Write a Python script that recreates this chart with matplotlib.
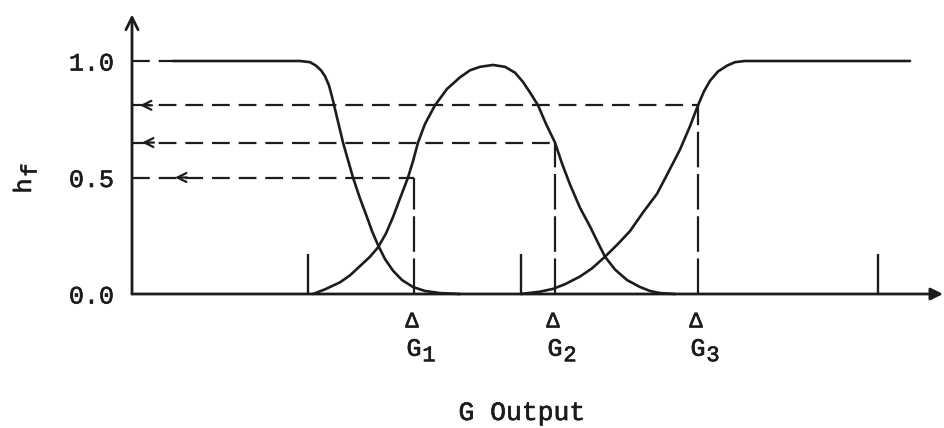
import matplotlib.pyplot as plt
import matplotlib.patheffects as pe

plt.rcParams['font.family'] = ['Liberation Mono', 'DejaVu Sans Mono']

INK = '#1c1c1c'
# typewriter strokes are a bit heavier than Liberation Mono
BOLDEN = [pe.withStroke(linewidth=0.45, foreground=INK)]

# membership curves (x in G units, y = h_f)
low_x = [0.41, 1.58, 1.68, 1.78, 1.84, 1.89, 1.93, 1.97, 2.01, 2.06, 2.11, 2.16,
         2.21, 2.28, 2.35, 2.40, 2.46, 2.53, 2.61, 2.70, 2.81, 2.93, 3.08, 3.28]
low_y = [1.0, 1.0, 1.0, 0.995, 0.98, 0.96, 0.935, 0.895, 0.83, 0.74, 0.65, 0.575,
         0.50, 0.41, 0.33, 0.27, 0.21, 0.15, 0.10, 0.06, 0.03, 0.013, 0.004, 0.0]

mid_x = [1.81, 1.93, 2.08, 2.18, 2.28, 2.38, 2.46, 2.54, 2.61, 2.68, 2.76, 2.81,
         2.86, 2.93, 3.03, 3.15, 3.28, 3.38, 3.48, 3.61, 3.73, 3.83, 3.91, 3.98,
         4.06, 4.14, 4.23, 4.30, 4.38, 4.48, 4.58, 4.66, 4.73, 4.83, 4.95, 5.08,
         5.18, 5.28, 5.43]
mid_y = [0.0, 0.02, 0.05, 0.08, 0.12, 0.16, 0.20, 0.26, 0.33, 0.41, 0.50, 0.57,
         0.65, 0.73, 0.81, 0.88, 0.93, 0.96, 0.975, 0.983, 0.975, 0.95, 0.91, 0.865,
         0.81, 0.73, 0.65, 0.56, 0.47, 0.37, 0.29, 0.22, 0.16, 0.105, 0.06, 0.03,
         0.013, 0.004, 0.0]

high_x = [3.89, 4.08, 4.21, 4.33, 4.48, 4.60, 4.73, 4.86, 4.98, 5.11, 5.25, 5.36,
          5.48, 5.58, 5.66, 5.72, 5.78, 5.86, 5.95, 6.03, 6.13, 7.78]
high_y = [0.0, 0.01, 0.022, 0.042, 0.075, 0.11, 0.16, 0.215, 0.27, 0.35, 0.43, 0.52,
          0.62, 0.72, 0.81, 0.87, 0.915, 0.955, 0.98, 0.995, 1.0, 1.0]

# sample outputs and their read-back h_f
g_x = [2.82, 4.23, 5.66]
g_h = [0.50, 0.65, 0.81]
g_sub = ['1', '2', '3']
arrow_tip = [0.43, 0.10, 0.08]

# short marks on the G axis
mark_x = [1.76, 3.89, 7.46]
mark_h = 0.17

y_ticks = [0.0, 0.5, 1.0]
y_labels = ['0.0', '0.5', '1.0']

fig = plt.figure(figsize=(9.44, 4.28), dpi=100)
ax = fig.add_axes([132 / 944, 134 / 428, 812 / 944, 1.2 * 233 / 428])
ax.set_xlim(0, 8.12)
ax.set_ylim(0, 1.2)
for s in ax.spines.values():
    s.set_visible(False)

# axes with arrows
ax.annotate('', xy=(0, 1.2), xytext=(0, 0), annotation_clip=False,
            arrowprops=dict(arrowstyle='->', lw=2, color=INK, mutation_scale=22,
                            shrinkA=0, shrinkB=0))
ax.annotate('', xy=(8.11, 0), xytext=(0, 0), annotation_clip=False,
            arrowprops=dict(arrowstyle='-|>', lw=2, color=INK, mutation_scale=18,
                            shrinkA=0, shrinkB=0))

for xs, ys in [(low_x, low_y), (mid_x, mid_y), (high_x, high_y)]:
    ax.plot(xs, ys, color=INK, lw=1.9, clip_on=False, solid_capstyle='round')

# dashed lead-in at 1.0
ax.plot([0, low_x[0]], [1.0, 1.0], color=INK, lw=1.6, dashes=(8, 4))

for gx, gh, tip in zip(g_x, g_h, arrow_tip):
    ax.plot([0, gx], [gh, gh], color=INK, lw=1.6, dashes=(8, 4))
    ax.plot([gx, gx], [0, gh], color=INK, lw=1.6, dashes=(16, 3))
    ax.annotate('', xy=(tip, gh), xytext=(tip + 0.12, gh),
                arrowprops=dict(arrowstyle='->', lw=1.6, color=INK, mutation_scale=16,
                                shrinkA=0, shrinkB=0))

ax.vlines(mark_x, 0, mark_h, color=INK, lw=1.7)

ax.set_xticks([])
ax.set_yticks(y_ticks)
ax.set_yticklabels(y_labels, fontsize=18, color=INK)
ax.tick_params(axis='y', length=0, pad=13)
for t in ax.get_yticklabels():
    t.set_path_effects(BOLDEN)

for gx, sub in zip(g_x, g_sub):
    ax.text(gx - 0.02, -0.12, '\u0394', ha='center', va='center', fontsize=16,
            color=INK, clip_on=False, path_effects=BOLDEN)
    ax.text(gx - 0.0, -0.235, 'G', ha='center', va='center', fontsize=18,
            color=INK, clip_on=False, path_effects=BOLDEN)
    ax.text(gx + 0.15, -0.265, sub, ha='center', va='center', fontsize=16,
            color=INK, clip_on=False, path_effects=BOLDEN)

# y label h_f, rotated, subscript drawn lower (i.e. to the right)
fig.text(24 / 944, 1 - 186 / 428, 'h', rotation=90, ha='center', va='center',
         fontsize=18, color=INK, path_effects=BOLDEN)
fig.text(31 / 944, 1 - 170 / 428, 'f', rotation=90, ha='center', va='center',
         fontsize=16, color=INK, path_effects=BOLDEN)
fig.text(522 / 944, 1 - 413 / 428, 'G Output', ha='center', va='center',
         fontsize=19, color=INK, path_effects=BOLDEN)

fig.savefig('out.png', dpi=100)
